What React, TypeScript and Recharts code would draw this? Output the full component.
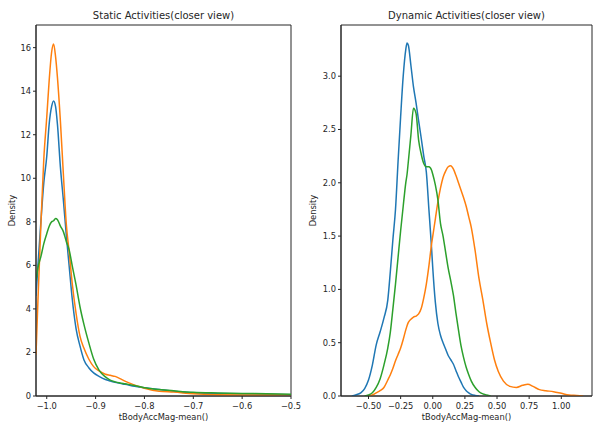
import React from "react";
import {
  LineChart,
  Line,
  XAxis,
  YAxis,
  ReferenceArea,
} from "recharts";

// Left panel: static activities (closer view)
const STATIC_X = [
  -1.022, -1.018, -1.012, -1.006, -1.0, -0.995, -0.99, -0.986, -0.982, -0.978,
  -0.972, -0.966, -0.96, -0.954, -0.948, -0.94, -0.932, -0.924, -0.914, -0.904,
  -0.893, -0.88, -0.87, -0.86, -0.85, -0.84, -0.82, -0.8, -0.77, -0.74,
  -0.7, -0.65, -0.6, -0.55, -0.5,
];
const STATIC_A = [
  4.6, 6.0, 8.0, 9.8, 11.0, 12.5, 13.3, 13.55, 13.3, 12.45,
  10.5, 9.0, 7.4, 5.94, 4.5, 3.1, 2.3, 1.67, 1.3, 1.06,
  0.9, 0.76, 0.69, 0.63, 0.58, 0.54, 0.45, 0.38, 0.3, 0.22,
  0.15, 0.12, 0.1, 0.08, 0.06,
];
const STATIC_B = [
  1.9, 4.4, 7.85, 10.9, 12.8, 14.5, 15.8, 16.17, 15.6, 14.6,
  12.6, 10.2, 7.9, 6.6, 5.2, 3.8, 2.75, 2.2, 1.7, 1.35,
  1.15, 1.0, 0.95, 0.9, 0.8, 0.68, 0.5, 0.36, 0.22, 0.18,
  0.1, 0.06, 0.05, 0.05, 0.06,
];
const STATIC_C = [
  5.3, 5.9, 6.4, 7.0, 7.45, 7.8, 8.0, 8.05, 8.15, 8.1,
  7.8, 7.55, 7.1, 6.7, 6.0, 5.1, 4.1, 3.3, 2.45, 1.7,
  1.19, 0.88, 0.73, 0.65, 0.6, 0.56, 0.48, 0.38, 0.3, 0.24,
  0.17, 0.14, 0.12, 0.1, 0.08,
];
const STATIC_X_TICKS = [-1.0, -0.9, -0.8, -0.7, -0.6, -0.5];
const STATIC_Y_TICKS = [0, 2, 4, 6, 8, 10, 12, 14, 16];

// Right panel: dynamic activities (closer view)
const DYN_X = [
  -0.63, -0.6, -0.56, -0.53, -0.5, -0.47, -0.44, -0.41, -0.38, -0.35,
  -0.33, -0.31, -0.29, -0.27, -0.25, -0.23, -0.21, -0.2, -0.19, -0.17,
  -0.15, -0.13, -0.11, -0.09, -0.07, -0.05, -0.03, -0.01, 0.0, 0.02,
  0.04, 0.06, 0.08, 0.1, 0.12, 0.14, 0.16, 0.18, 0.2, 0.22,
  0.24, 0.26, 0.28, 0.3, 0.33, 0.36, 0.39, 0.42, 0.45, 0.48,
  0.51, 0.55, 0.6, 0.65, 0.7, 0.74, 0.78, 0.83, 0.88, 0.94,
  1.0, 1.06, 1.12, 1.17,
];
const DYN_A = [
  0, 0.01, 0.03, 0.07, 0.15, 0.29, 0.48, 0.6, 0.73, 0.9,
  1.17, 1.47, 1.75, 2.2, 2.62, 3.0, 3.25, 3.31, 3.29, 3.1,
  2.9, 2.75, 2.58, 2.42, 2.25, 2.1, 1.75, 1.4, 1.2, 0.88,
  0.68, 0.57, 0.5, 0.44, 0.38, 0.34, 0.3, 0.24, 0.18, 0.13,
  0.08, 0.05, 0.03, 0.015, 0.005, 0, null, null, null, null,
  null, null, null, null, null, null, null, null, null, null,
  null, null, null, null,
];
const DYN_B = [
  null, null, null, null, 0, 0.01, 0.03, 0.05, 0.08, 0.15,
  0.2, 0.26, 0.33, 0.39, 0.45, 0.53, 0.62, 0.66, 0.69, 0.72,
  0.74, 0.75, 0.77, 0.82, 0.92, 1.05, 1.22, 1.42, 1.5, 1.66,
  1.82, 1.95, 2.05, 2.11, 2.15, 2.16, 2.13, 2.07, 2.0, 1.93,
  1.86, 1.78, 1.68, 1.58, 1.36, 1.1, 0.9, 0.68, 0.5, 0.34,
  0.23, 0.14, 0.09, 0.08, 0.1, 0.11, 0.09, 0.06, 0.05, 0.04,
  0.025, 0.01, 0.005, 0,
];
const DYN_C = [
  null, null, null, 0, 0.01, 0.03, 0.08, 0.16, 0.29, 0.45,
  0.6, 0.82, 1.05, 1.3, 1.55, 1.78, 2.0, 2.08, 2.2, 2.45,
  2.7, 2.65, 2.4, 2.27, 2.18, 2.15, 2.15, 2.12, 2.08, 1.98,
  1.84, 1.62, 1.5, 1.35, 1.2, 1.08, 0.95, 0.78, 0.62, 0.47,
  0.36, 0.27, 0.2, 0.14, 0.08, 0.04, 0.02, 0.01, 0, null,
  null, null, null, null, null, null, null, null, null, null,
  null, null, null, null,
];
const DYN_X_TICKS = [-0.5, -0.25, 0.0, 0.25, 0.5, 0.75, 1.0];
const DYN_Y_TICKS = [0, 0.5, 1.0, 1.5, 2.0, 2.5, 3.0];

const BLUE = "#1f77b4";
const ORANGE = "#ff7f0e";
const GREEN = "#2ca02c";
const INK = "#262626";
const FONT = "DejaVu Sans";

const fmt = (digits: number) => (v: number) =>
  v.toFixed(digits).replace("-", "\u2212");

const tickStyle = { fill: INK, fontSize: 8.3, fontFamily: FONT };

interface PanelProps {
  title: string;
  left: number;
  width: number;
  yAxisWidth: number;
  marginRight: number;
  rows: { x: number; a: number | null; b: number | null; c: number | null }[];
  xDomain: [number, number];
  yDomain: [number, number];
  xTicks: number[];
  yTicks: number[];
  xDigits: number;
  yDigits: number;
  densityOffset: number;
}

const Panel: React.FC<PanelProps> = (p) => {
  const plotLeft = p.left + p.yAxisWidth;
  const plotRight = p.left + p.width - p.marginRight;
  return (
    <>
      <div
        style={{
          position: "absolute",
          left: plotLeft,
          width: plotRight - plotLeft,
          top: 11,
          textAlign: "center",
          fontFamily: FONT,
          fontSize: 10,
          lineHeight: "10px",
          color: INK,
          whiteSpace: "nowrap",
        }}
      >
        {p.title}
      </div>
      <div style={{ position: "absolute", left: p.left, top: 0 }}>
        <LineChart
          width={p.width}
          height={424}
          data={p.rows}
          margin={{ top: 25, right: p.marginRight, bottom: 0, left: 0 }}
        >
          <XAxis
            dataKey="x"
            type="number"
            domain={p.xDomain}
            ticks={p.xTicks}
            allowDataOverflow
            tickFormatter={fmt(p.xDigits)}
            tick={tickStyle}
            tickSize={3}
            tickMargin={4}
            height={28}
            stroke={INK}
            interval={0}
            label={{
              value: "tBodyAccMag-mean()",
              position: "insideBottom",
              offset: 4,
              style: { fill: INK, fontSize: 8.3, fontFamily: FONT },
            }}
          />
          <YAxis
            type="number"
            domain={p.yDomain}
            ticks={p.yTicks}
            allowDataOverflow
            tickFormatter={fmt(p.yDigits)}
            tick={tickStyle}
            tickSize={3}
            tickMargin={2}
            width={p.yAxisWidth}
            stroke={INK}
            interval={0}
            label={{
              value: "Density",
              angle: -90,
              position: "insideLeft",
              offset: p.densityOffset,
              style: {
                fill: INK,
                fontSize: 8.3,
                fontFamily: FONT,
                textAnchor: "middle",
              },
            }}
          />
          <ReferenceArea
            x1={p.xDomain[0]}
            x2={p.xDomain[1]}
            y1={p.yDomain[0]}
            y2={p.yDomain[1]}
            fill="none"
            stroke={INK}
            strokeWidth={1}
            ifOverflow="visible"
          />
          <Line dataKey="a" type="monotone" stroke={BLUE} strokeWidth={1.5} dot={false} isAnimationActive={false} />
          <Line dataKey="b" type="monotone" stroke={ORANGE} strokeWidth={1.5} dot={false} isAnimationActive={false} />
          <Line dataKey="c" type="monotone" stroke={GREEN} strokeWidth={1.5} dot={false} isAnimationActive={false} />
        </LineChart>
      </div>
    </>
  );
};

export default function App() {
  const staticRows = STATIC_X.map((x, i) => ({
    x,
    a: STATIC_A[i],
    b: STATIC_B[i],
    c: STATIC_C[i],
  }));
  const dynRows = DYN_X.map((x, i) => ({
    x,
    a: DYN_A[i],
    b: DYN_B[i],
    c: DYN_C[i],
  }));

  return (
    <div
      style={{
        position: "absolute",
        left: 0,
        top: 0,
        width: 593,
        height: 424,
        background: "#fff",
        overflow: "hidden",
      }}
    >
      <Panel
        title="Static Activities(closer view)"
        left={0}
        width={305}
        yAxisWidth={36}
        marginRight={14}
        rows={staticRows}
        xDomain={[-1.022, -0.5]}
        yDomain={[0, 17.04]}
        xTicks={STATIC_X_TICKS}
        yTicks={STATIC_Y_TICKS}
        xDigits={1}
        yDigits={0}
        densityOffset={12}
      />
      <Panel
        title="Dynamic Activities(closer view)"
        left={300}
        width={293}
        yAxisWidth={41}
        marginRight={1}
        rows={dynRows}
        xDomain={[-0.714, 1.239]}
        yDomain={[0, 3.48]}
        xTicks={DYN_X_TICKS}
        yTicks={DYN_Y_TICKS}
        xDigits={2}
        yDigits={1}
        densityOffset={13}
      />
    </div>
  );
}
